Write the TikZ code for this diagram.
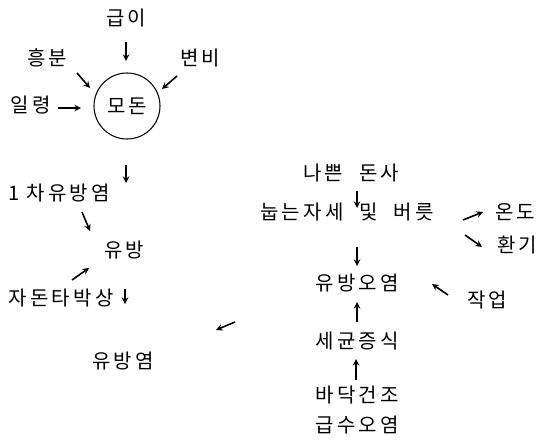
\documentclass[tikz,border=0pt]{standalone}
\usepackage{fontspec}
\newfontfamily\kr[LetterSpace=16]{Noto Sans CJK KR}
\usetikzlibrary{arrows,positioning}

\begin{document}
\begin{tikzpicture}[
  x=0.75pt,y=-0.75pt,
  lbl/.style={inner sep=0pt,align=center,font=\kr\fontsize{15}{18}\selectfont},
  sow/.style={circle,draw,line width=0.8pt,minimum size=49.5pt,inner sep=0pt,font=\kr\fontsize{15}{18}\selectfont},
  arr/.style={->,>=stealth,line width=1.2pt}
]
  \clip (0,0) rectangle (542,439);
  % left part: sow and udder
  \node[sow] (modon) at (127,106) {모돈};
  \node[lbl] (geubi) at (126,18) {급이};
  \node[lbl] (heungbun) at (47,58) {흥분};
  \node[lbl] (byeonbi) at (200,58) {변비};
  \node[lbl] (illyeong) at (31,105) {일령};
  \node[lbl] (cha1) at (59,193) {1 차유방염};
  \node[lbl] (yubang) at (124,250) {유방};
  \node[lbl] (jadon) at (61,298) {자돈타박상};
  \node[lbl] (yubangyeom) at (123,361) {유방염};
  % right part: housing and contamination
  \node[lbl,anchor=west] (nappeun) at (303,173) {나쁜\hspace{0.8em}돈사};
  \node[lbl,anchor=west] (nupneun) at (260,212) {눕는자세\hspace{0.8em}및\hspace{0.8em}버릇};
  \node[lbl,anchor=west] (ondo) at (495,212) {온도};
  \node[lbl,anchor=west] (hwangi) at (497,245) {환기};
  \node[lbl] (oyeom) at (357,283) {유방오염};
  \node[lbl] (jageop) at (487,300) {작업};
  \node[lbl] (segyun) at (357,341) {세균증식};
  \node[lbl] (badak) at (357,410) {바닥건조\\[4pt]급수오염};
  % arrow ends
  \coordinate (geubi-a) at (126,42);   \coordinate (geubi-b) at (126,61);
  \coordinate (heung-a) at (77,73);    \coordinate (heung-b) at (90,88);
  \coordinate (byeon-a) at (177,76);   \coordinate (byeon-b) at (162,89);
  \coordinate (ill-a) at (58,108);     \coordinate (ill-b) at (81,108);
  \coordinate (modon-a) at (126,165);  \coordinate (modon-b) at (126,183);
  \coordinate (cha-a) at (82,212);     \coordinate (cha-b) at (90,231);
  \coordinate (jad-a) at (72,280);     \coordinate (jad-b) at (89,268);
  \coordinate (jad-c) at (125,289);    \coordinate (jad-d) at (125,304);
  \coordinate (yeom-a) at (235,322);   \coordinate (yeom-b) at (216,330);
  \coordinate (nap-a) at (357,191);    \coordinate (nap-b) at (357,208);
  \coordinate (ondo-a) at (463,220);   \coordinate (ondo-b) at (483,212);
  \coordinate (hwan-a) at (465,235);   \coordinate (hwan-b) at (482,247);
  \coordinate (nup-a) at (357,247);    \coordinate (nup-b) at (357,266);
  \coordinate (jag-a) at (448,295);    \coordinate (jag-b) at (432,284);
  \coordinate (seg-a) at (357,322);    \coordinate (seg-b) at (357,302);
  \coordinate (bad-a) at (356,380);    \coordinate (bad-b) at (356,359);
  \draw[arr] (geubi-a) -- (geubi-b);
  \draw[arr] (heung-a) -- (heung-b);
  \draw[arr] (byeon-a) -- (byeon-b);
  \draw[arr] (ill-a) -- (ill-b);
  \draw[arr] (modon-a) -- (modon-b);
  \draw[arr] (cha-a) -- (cha-b);
  \draw[arr] (jad-a) -- (jad-b);
  \draw[arr] (jad-c) -- (jad-d);
  \draw[arr] (yeom-a) -- (yeom-b);
  \draw[arr] (nap-a) -- (nap-b);
  \draw[arr] (ondo-a) -- (ondo-b);
  \draw[arr] (hwan-a) -- (hwan-b);
  \draw[arr] (nup-a) -- (nup-b);
  \draw[arr] (jag-a) -- (jag-b);
  \draw[arr] (seg-a) -- (seg-b);
  \draw[arr] (bad-a) -- (bad-b);
\end{tikzpicture}
\end{document}
